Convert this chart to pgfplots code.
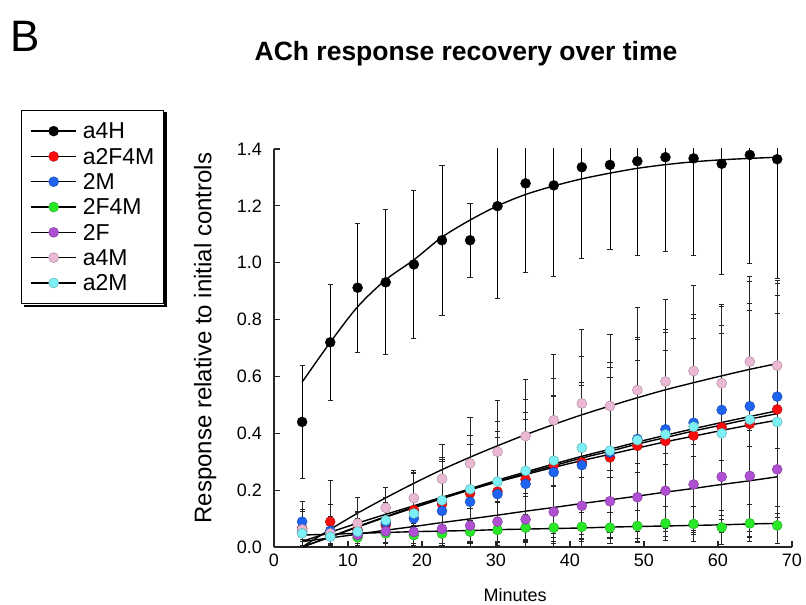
\documentclass[border=0pt]{standalone}
\usepackage{pgfplots}
\pgfplotsset{compat=1.18}
\usepackage{fontspec}
\setmainfont{Liberation Sans}
\definecolor{cRed}{RGB}{250,12,12}
\definecolor{cBlue}{RGB}{30,100,240}
\definecolor{cGreen}{RGB}{40,232,40}
\definecolor{cPurple}{RGB}{175,80,210}
\definecolor{cPink}{RGB}{235,185,212}
\definecolor{cCyan}{RGB}{125,240,245}
\pgfplotsset{
  ptser/.style={only marks, mark=*, mark size=5pt,
    mark options={fill=#1, draw=#1!70!black, line width=0.4pt},
    error bars/y dir=both, error bars/y explicit,
    error bars/error bar style={line width=0.9pt, black!85},
    error bars/error mark options={rotate=90, mark size=2.6pt, line width=0.9pt, black!85}},
  fit/.style={black, line width=1.4pt, smooth, forget plot, no marks},
}
\begin{document}
\begin{tikzpicture}[x=1pt,y=1pt]
\path (0,0) rectangle (806,605);
\node[anchor=base west, inner sep=0pt, font=\fontsize{44}{48}\selectfont] at (10.5,553) {B};
\begin{axis}[
  at={(274pt,58pt)}, anchor=south west, scale only axis,
  width=518pt, height=398pt,
  xmin=0, xmax=70, ymin=0, ymax=1.4,
  axis lines=left, axis line style={-, line width=1.2pt, black!85},
  tick style={line width=1.2pt, black!85}, major tick length=6pt, tick align=inside,
  xtick={0,10,20,30,40,50,60,70},
  ytick={0,0.2,0.4,0.6,0.8,1.0,1.2,1.4},
  /pgf/number format/assume math mode=true,
  tick label style={font=\fontsize{18}{20}\selectfont},
  yticklabel style={xshift=-8.5pt, /pgf/number format/fixed, /pgf/number format/fixed zerofill, /pgf/number format/precision=1},
  xticklabel style={yshift=-3pt},
  xlabel={Minutes},
  xlabel style={at={(axis description cs:0.4653,0)}, anchor=base, yshift=-54pt, font=\fontsize{18}{20}\selectfont},
  ylabel={Response relative to initial controls},
  ylabel style={at={(axis description cs:-0.133,0.525)}, anchor=center, font=\fontsize{24}{26}\selectfont},
  title={ACh response recovery over time},
  title style={at={(axis description cs:0.3707,1.2085)}, anchor=base, font=\bfseries\fontsize{26.5}{28}\selectfont},
  legend style={name=leg, at={(axis description cs:-0.4884,1.098)}, anchor=north west,
    draw=black, line width=1pt, fill=white,
    font=\fontsize{23}{25}\selectfont, inner xsep=9pt, inner ysep=8pt, row sep=0pt,
    nodes={inner sep=0pt, text height=20.5pt, text depth=4.8pt},
    /tikz/every odd column/.append style={column sep=6pt}},
  legend cell align=left,
  legend image code/.code={
    \draw[black, line width=1.3pt] (0pt,0pt) -- (45pt,0pt);
    \draw[#1, mark repeat=2, mark phase=2] plot coordinates {(0pt,0pt) (22.5pt,0pt) (45pt,0pt)};
  },
]
% fitted curves
\addplot[fit] coordinates {(3.8,0.58)(7.6,0.72)(11.3,0.845)(15.1,0.94)(18.9,1.01)(22.7,1.09)(26.5,1.15)(30.2,1.20)(34.0,1.24)(37.8,1.27)(41.6,1.295)(45.4,1.315)(49.1,1.332)(52.9,1.345)(56.7,1.355)(60.5,1.362)(64.3,1.367)(68.0,1.371)};
\addplot[fit] coordinates {(3.8,0.0)(7.6,0.062)(11.3,0.119)(15.1,0.173)(18.9,0.224)(22.7,0.272)(26.5,0.316)(30.2,0.356)(34.0,0.395)(37.8,0.431)(41.6,0.465)(45.4,0.496)(49.1,0.525)(52.9,0.553)(56.7,0.578)(60.5,0.602)(64.3,0.625)(68.0,0.645)};
\addplot[fit] coordinates {(3.8,0.0)(7.6,0.036)(11.3,0.072)(15.1,0.107)(18.9,0.141)(22.7,0.174)(26.5,0.205)(30.2,0.235)(34.0,0.264)(37.8,0.292)(41.6,0.319)(45.4,0.344)(49.1,0.369)(52.9,0.393)(56.7,0.416)(60.5,0.438)(64.3,0.459)(68.0,0.479)};
\addplot[fit] coordinates {(3.8,0.0)(7.6,0.035)(11.3,0.070)(15.1,0.105)(18.9,0.138)(22.7,0.170)(26.5,0.201)(30.2,0.230)(34.0,0.259)(37.8,0.286)(41.6,0.313)(45.4,0.337)(49.1,0.362)(52.9,0.385)(56.7,0.408)(60.5,0.429)(64.3,0.450)(68.0,0.469)};
\addplot[fit] coordinates {(3.8,0.02)(7.6,0.052)(11.3,0.084)(15.1,0.115)(18.9,0.145)(22.7,0.175)(26.5,0.202)(30.2,0.229)(34.0,0.255)(37.8,0.280)(41.6,0.304)(45.4,0.326)(49.1,0.348)(52.9,0.370)(56.7,0.390)(60.5,0.410)(64.3,0.429)(68.0,0.446)};
\addplot[fit] coordinates {(3.8,0.019)(7.6,0.032)(11.3,0.045)(15.1,0.059)(18.9,0.072)(22.7,0.086)(26.5,0.099)(30.2,0.112)(34.0,0.126)(37.8,0.139)(41.6,0.153)(45.4,0.166)(49.1,0.179)(52.9,0.193)(56.7,0.206)(60.5,0.220)(64.3,0.233)(68.0,0.247)};
\addplot[fit] coordinates {(3.8,0.042)(7.6,0.045)(11.3,0.048)(15.1,0.051)(18.9,0.054)(22.7,0.056)(26.5,0.058)(30.2,0.061)(34.0,0.063)(37.8,0.065)(41.6,0.067)(45.4,0.070)(49.1,0.072)(52.9,0.074)(56.7,0.076)(60.5,0.078)(64.3,0.081)(68.0,0.083)};
% a4H
\addplot[ptser=black, error bars/error bar style={line width=0.9pt, black}] table[x=x, y=y, y error=e] {
x y e
3.8 0.440 0.200
7.6 0.720 0.204
11.3 0.912 0.226
15.1 0.931 0.255
18.9 0.994 0.260
22.7 1.079 0.263
26.5 1.079 0.130
30.2 1.199 0.325
34.0 1.279 0.314
37.8 1.272 0.320
41.6 1.336 0.322
45.4 1.344 0.297
49.1 1.357 0.332
52.9 1.371 0.330
56.7 1.367 0.343
60.5 1.348 0.390
64.3 1.379 0.380
68.0 1.364 0.420
};
\addlegendentry{a4H}
% a2F4M
\addplot[ptser=cRed] table[x=x, y=y, y error=e] {
x y e
3.8 0.066 0.060
7.6 0.089 0.145
11.3 0.060 0.060
15.1 0.077 0.080
18.9 0.130 0.130
22.7 0.151 0.150
26.5 0.189 0.170
30.2 0.195 0.190
34.0 0.238 0.210
37.8 0.288 0.240
41.6 0.297 0.270
45.4 0.315 0.280
49.1 0.356 0.300
52.9 0.373 0.320
56.7 0.392 0.340
60.5 0.421 0.360
64.3 0.433 0.400
68.0 0.484 0.400
};
\addlegendentry{a2F4M}
% 2M
\addplot[ptser=cBlue] table[x=x, y=y, y error=e] {
x y e
3.8 0.089 0.070
7.6 0.057 0.050
11.3 0.050 0.050
15.1 0.086 0.090
18.9 0.101 0.160
22.7 0.127 0.180
26.5 0.159 0.200
30.2 0.186 0.220
34.0 0.222 0.250
37.8 0.263 0.270
41.6 0.288 0.290
45.4 0.332 0.300
49.1 0.380 0.350
52.9 0.414 0.350
56.7 0.437 0.380
60.5 0.482 0.370
64.3 0.495 0.440
68.0 0.529 0.410
};
\addlegendentry{2M}
% 2F4M
\addplot[ptser=cGreen] table[x=x, y=y, y error=e] {
x y e
3.8 0.050 0.030
7.6 0.040 0.030
11.3 0.034 0.030
15.1 0.048 0.035
18.9 0.042 0.035
22.7 0.047 0.040
26.5 0.054 0.040
30.2 0.060 0.045
34.0 0.068 0.045
37.8 0.068 0.050
41.6 0.071 0.050
45.4 0.068 0.055
49.1 0.074 0.055
52.9 0.083 0.060
56.7 0.081 0.060
60.5 0.069 0.060
64.3 0.083 0.065
68.0 0.076 0.065
};
\addlegendentry{2F4M}
% 2F
\addplot[ptser=cPurple] table[x=x, y=y, y error=e] {
x y e
3.8 0.055 0.030
7.6 0.042 0.030
11.3 0.042 0.030
15.1 0.055 0.040
18.9 0.053 0.040
22.7 0.064 0.050
26.5 0.075 0.060
30.2 0.089 0.070
34.0 0.097 0.080
37.8 0.124 0.090
41.6 0.145 0.100
45.4 0.161 0.110
49.1 0.175 0.120
52.9 0.198 0.130
56.7 0.220 0.140
60.5 0.247 0.150
64.3 0.250 0.160
68.0 0.273 0.170
};
\addlegendentry{2F}
% a4M
\addplot[ptser=cPink] table[x=x, y=y, y error=e] {
x y e
3.8 0.062 0.070
7.6 0.048 0.100
11.3 0.083 0.090
15.1 0.138 0.070
18.9 0.172 0.090
22.7 0.240 0.120
26.5 0.294 0.160
30.2 0.335 0.180
34.0 0.390 0.200
37.8 0.446 0.230
41.6 0.505 0.260
45.4 0.496 0.250
49.1 0.552 0.290
52.9 0.582 0.290
56.7 0.619 0.300
60.5 0.576 0.270
64.3 0.652 0.300
68.0 0.638 0.290
};
\addlegendentry{a4M}
% a2M
\addplot[ptser=cCyan] table[x=x, y=y, y error=e] {
x y e
3.8 0.048 0.050
7.6 0.036 0.060
11.3 0.054 0.070
15.1 0.094 0.080
18.9 0.118 0.150
22.7 0.164 0.150
26.5 0.203 0.190
30.2 0.230 0.210
34.0 0.268 0.250
37.8 0.304 0.290
41.6 0.349 0.320
45.4 0.339 0.310
49.1 0.376 0.360
52.9 0.396 0.360
56.7 0.423 0.380
60.5 0.400 0.350
64.3 0.448 0.410
68.0 0.440 0.380
};
\addlegendentry{a2M}
\end{axis}
\fill[black] ([xshift=0.5pt,yshift=-2.5pt]leg.north east) rectangle ([xshift=3pt,yshift=-3pt]leg.south east);
\fill[black] ([xshift=2.5pt,yshift=-0.5pt]leg.south west) rectangle ([xshift=3pt,yshift=-3pt]leg.south east);
\end{tikzpicture}
\end{document}
